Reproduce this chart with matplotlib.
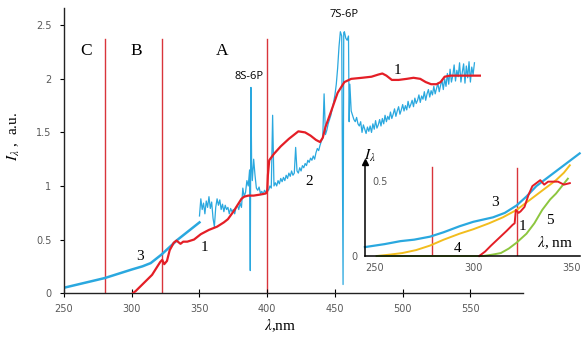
import numpy as np
import matplotlib.pyplot as plt

plt.rcParams['mathtext.fontset'] = 'stix'

# region borders (nm) and labels
borders = [280, 322, 400]
border_top = 2.37
regions = ['C', 'B', 'A']
region_x = [266, 303, 367]

# curve 3 (smooth, blue)
wl3 = [250, 260, 270, 280, 290, 300, 308, 314, 322, 328, 334, 340, 345, 350]
i3 = [0.05, 0.08, 0.11, 0.14, 0.18, 0.22, 0.25, 0.28, 0.36, 0.43, 0.50, 0.56, 0.61, 0.66]

# curve 1 (red)
wl1 = [301, 303, 307, 311, 315, 318.5, 321, 322.5, 324, 326, 328, 331, 333, 336, 338, 341,
       346, 351, 357, 363, 368, 371, 375, 378, 381, 383, 386, 390, 395, 399, 400, 400.5,
       401.5, 405, 410, 416, 423, 428, 432, 436, 439, 441, 443, 447, 452, 457, 462, 470,
       477, 482, 485, 488, 492, 497, 503, 508, 513, 517, 521, 525, 528, 531, 535, 541,
       548, 557]
i1 = [0.0, 0.02, 0.07, 0.12, 0.17, 0.24, 0.29, 0.31, 0.27, 0.30, 0.40, 0.47, 0.49, 0.46, 0.48, 0.48,
      0.50, 0.55, 0.59, 0.62, 0.66, 0.69, 0.76, 0.82, 0.88, 0.90, 0.91, 0.91, 0.92, 0.93, 0.95, 1.10,
      1.24, 1.30, 1.37, 1.44, 1.51, 1.50, 1.47, 1.43, 1.41, 1.45, 1.55, 1.69, 1.87, 1.97, 2.00, 2.01,
      2.02, 2.04, 2.05, 2.03, 1.99, 1.99, 2.00, 2.01, 2.00, 1.97, 1.95, 1.95, 1.97, 2.02, 2.03, 2.03,
      2.03, 2.03]

# curve 2 (measured spectrum, noisy blue)
wl2 = [350, 351, 352, 353, 354, 355, 356, 357, 358, 359, 360, 361, 362, 363, 364, 365, 366, 367,
       368, 369, 370, 371, 372, 373, 374, 375, 376, 377, 378, 379, 380, 381, 382, 383, 384, 385,
       386, 387, 387.5, 388, 388.5, 389, 390, 391, 392, 393, 394, 395, 396, 397, 398, 399, 400,
       401, 402, 403, 404, 405, 406, 407, 408, 409, 410, 411, 412, 413, 414, 415, 416, 417, 418,
       419, 420, 421, 422, 423, 424, 425, 426, 427, 428, 429, 430, 431, 432, 433, 434, 435, 436,
       437, 438, 439, 440, 441, 442, 443, 444, 445, 446, 447, 448, 449, 450, 451, 452, 453, 454,
       455, 456, 456.5, 457, 458, 459, 460, 460.5, 461, 462, 463, 464, 465, 466, 467, 468, 469,
       470, 471, 472, 473, 474, 475, 476, 477, 478, 479, 480, 481, 482, 483, 484, 485, 486, 487,
       488, 489, 490, 491, 492, 493, 494, 495, 496, 497, 498, 499, 500, 501, 502, 503, 504, 505,
       506, 507, 508, 509, 510, 511, 512, 513, 514, 515, 516, 517, 518, 519, 520, 521, 522, 523,
       524, 525, 526, 527, 528, 529, 530, 531, 532, 533, 534, 535, 536, 537, 538, 539, 540, 541,
       542, 543, 544, 545, 546, 547, 548, 549, 550, 551, 552, 553]
i2 = [0.72, 0.88, 0.78, 0.84, 0.74, 0.86, 0.80, 0.90, 0.79, 0.85, 0.70, 0.62, 0.80, 0.88, 0.82, 0.87, 0.78, 0.83,
      0.76, 0.82, 0.78, 0.80, 0.74, 0.79, 0.76, 0.78, 0.74, 0.80, 0.82, 0.78, 0.84, 0.80, 0.98, 0.90, 0.94, 1.05,
      1.00, 1.15, 0.21, 1.92, 1.20, 1.05, 1.25, 1.10, 0.98, 0.96, 0.99, 0.93, 0.95, 0.92, 0.96, 0.94, 0.97,
      0.96, 1.00, 0.98, 1.66, 1.00, 1.03, 1.00, 1.05, 1.02, 1.07, 1.04, 1.08, 1.05, 1.10, 1.07, 1.12, 1.09, 1.14,
      1.10, 1.12, 1.36, 1.14, 1.12, 1.17, 1.14, 1.19, 1.17, 1.21, 1.19, 1.24, 1.22, 1.26, 1.24, 1.28, 1.25, 1.31,
      1.35, 1.33, 1.38, 1.42, 1.45, 1.86, 1.48, 1.52, 1.58, 1.62, 1.66, 1.72, 1.78, 1.85, 1.95, 2.10, 2.30, 2.44,
      2.40, 0.08, 2.43, 2.44, 2.38, 2.36, 2.40, 1.60, 1.95, 1.70, 1.66, 1.62, 1.60, 1.64, 1.58, 1.56, 1.60,
      1.50, 1.57, 1.53, 1.49, 1.55, 1.51, 1.56, 1.50, 1.58, 1.53, 1.61, 1.54, 1.57, 1.62, 1.56, 1.63, 1.58, 1.66,
      1.60, 1.65, 1.62, 1.69, 1.63, 1.67, 1.72, 1.65, 1.70, 1.74, 1.67, 1.71, 1.76, 1.70, 1.75, 1.71, 1.79, 1.73,
      1.76, 1.80, 1.74, 1.82, 1.77, 1.80, 1.85, 1.78, 1.84, 1.81, 1.88, 1.80, 1.86, 1.90, 1.83, 1.89, 1.85, 1.93,
      1.86, 1.91, 1.96, 1.88, 1.94, 1.99, 1.90, 2.00, 1.93, 2.05, 1.95, 2.09, 1.97, 2.03, 2.13, 1.98, 2.08, 2.02,
      2.15, 1.97, 2.06, 2.14, 1.96, 2.12, 2.01, 2.16, 1.97, 2.11, 2.04, 2.15]

# inset data
in_borders = [279, 322]
in_border_top = [0.60, 0.59]
wl3i = [245, 255, 263, 270, 278, 285, 293, 300, 310, 316, 322, 327, 332, 337, 342, 348, 354]
i3i = [0.06, 0.08, 0.10, 0.11, 0.13, 0.16, 0.20, 0.23, 0.26, 0.29, 0.34, 0.40, 0.47, 0.52, 0.57, 0.63, 0.69]
wl_or = [251, 258, 264, 271, 278, 285, 293, 300, 308, 315, 322, 327, 332, 337, 342, 346, 349]
i_or = [0.0, 0.01, 0.02, 0.04, 0.07, 0.11, 0.15, 0.18, 0.22, 0.26, 0.31, 0.36, 0.41, 0.46, 0.51, 0.56, 0.61]
wl_g = [251, 260, 270, 280, 290, 300, 305, 310, 314, 318, 322, 327, 331, 335, 339, 342, 345, 348]
i_g = [0, 0, 0, 0, 0, 0, 0.0, 0.01, 0.02, 0.05, 0.09, 0.15, 0.22, 0.31, 0.38, 0.42, 0.47, 0.52]
wl1i = [303, 306, 309, 313, 317, 320, 321, 321.6, 323, 324, 326, 328, 330, 332, 334, 336, 338, 340, 343, 346, 349]
i1i = [0, 0.03, 0.07, 0.12, 0.17, 0.21, 0.22, 0.31, 0.29, 0.30, 0.33, 0.41, 0.47, 0.49, 0.51, 0.48, 0.50,
       0.50, 0.50, 0.48, 0.49]

BLUE = '#2aa8df'
RED = '#e41e26'
VRED = '#d9343b'
GRAY = '#595959'
serif = 'Liberation Serif'

fig = plt.figure(figsize=(5.82, 3.40), dpi=100)
ax = fig.add_axes([0.110, 0.138, 0.789, 0.838])

for b in borders:
    ax.plot([b, b], [0, border_top], color=VRED, lw=1.0, zorder=1)
ax.plot(wl3, i3, color=BLUE, lw=1.8, zorder=2)
ax.plot(wl2, i2, color=BLUE, lw=0.9, zorder=2)
ax.plot(wl1, i1, color=RED, lw=1.6, zorder=3)

for name, x in zip(regions, region_x):
    ax.text(x, 2.26, name, fontsize=12.5, family=serif, ha='center', va='center')
ax.text(386.5, 2.02, '8S-6P', fontsize=8, ha='center', va='center', family='Open Sans')
ax.text(457, 2.6, '7S-6P', fontsize=8, ha='center', va='center', family='Open Sans', clip_on=False)
for s, x, y in [('3', 306, 0.34), ('1', 354, 0.43), ('2', 431, 1.04), ('1', 496, 2.08)]:
    ax.text(x, y, s, fontsize=11, family=serif, ha='center', va='center')

ax.set_xlim(250, 589)
ax.set_ylim(0, 2.66)
ax.set_xticks([250, 300, 350, 400, 450, 500, 550])
ax.set_yticks([0, 0.5, 1, 1.5, 2, 2.5])
ax.set_yticklabels(['0', '0.5', '1', '1.5', '2', '2.5'])
ax.spines[['top', 'right']].set_visible(False)
for sp in ['left', 'bottom']:
    ax.spines[sp].set_color('#222222')
    ax.spines[sp].set_linewidth(1.0)
ax.tick_params(axis='x', direction='inout', length=6, labelsize=7, labelcolor=GRAY, pad=5)
ax.tick_params(axis='y', direction='out', length=3, labelsize=7, labelcolor=GRAY, pad=6)
ax.set_ylabel(r'$I_\lambda$ ,  a.u.', fontsize=11, family=serif)
ax.yaxis.set_label_coords(-0.092, 0.55)
ax.set_xlabel(r'$\lambda$,nm', fontsize=11, family=serif)
ax.xaxis.set_label_coords(0.47, -0.085)

# inset
axi = fig.add_axes([0.627, 0.247, 0.369, 0.315])
axi.patch.set_alpha(0)
axi.set_xlim(245, 354)
axi.set_ylim(0, 0.72)
for b, t in zip(in_borders, in_border_top):
    axi.plot([b, b], [0, t], color=VRED, lw=1.0, zorder=1)
axi.plot(wl3i, i3i, color=BLUE, lw=1.6, clip_on=False)
axi.plot(wl_or, i_or, color='#f2bd1d', lw=1.4, clip_on=False)
axi.plot(wl_g, i_g, color='#8dc63f', lw=1.4, clip_on=False)
axi.plot(wl1i, i1i, color=RED, lw=1.4, clip_on=False)

axi.spines[['top', 'right']].set_visible(False)
for sp in ['left', 'bottom']:
    axi.spines[sp].set_color('black')
    axi.spines[sp].set_linewidth(1.1)
axi.spines['left'].set_bounds(0, 0.63)
axi.spines['bottom'].set_position(('data', 0))
axi.plot(0, 0.63, '^k', ms=5, transform=axi.get_yaxis_transform(), clip_on=False)
axi.plot(0.985, 0, '>k', ms=5, transform=axi.get_xaxis_transform(), clip_on=False)
axi.set_xticks([250, 300, 350])
axi.set_yticks([0])
axi.tick_params(length=0, labelsize=7, labelcolor=GRAY, pad=5)
axi.text(252.5, 0.5, '0.5', fontsize=7, color=GRAY, ha='center', va='center')
axi.text(247.5, 0.67, r'$I_\lambda$', fontsize=11, ha='center', va='center')
axi.text(341.5, 0.09, r'$\lambda$, nm', fontsize=11, family=serif, ha='center', va='center')
for s, x, y in [('3', 311, 0.36), ('1', 325, 0.2), ('5', 339, 0.24), ('4', 292, 0.05)]:
    axi.text(x, y, s, fontsize=11, family=serif, ha='center', va='center')

fig.savefig('out.png', dpi=100, facecolor='white')
